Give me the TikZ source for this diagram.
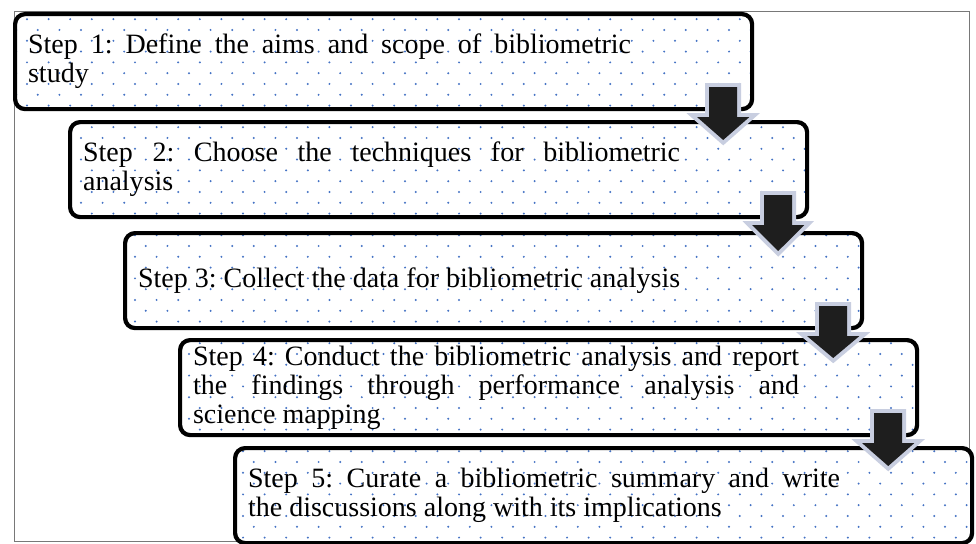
\documentclass[tikz,border=0pt]{standalone}
\usepackage{fontspec}
\setmainfont{Liberation Serif}
\usetikzlibrary{calc,patterns}
\definecolor{dotblue}{RGB}{68,114,196}
\definecolor{arrowdark}{RGB}{30,30,30}
\definecolor{glowblue}{RGB}{200,206,224}
\definecolor{framegray}{RGB}{120,120,120}
\pgfdeclarepatternformonly{bluedots}{\pgfqpoint{-2pt}{-2pt}}{\pgfqpoint{23.6pt}{23.6pt}}{\pgfqpoint{21.6pt}{21.6pt}}{%
	\pgfpathcircle{\pgfqpoint{5.4pt}{5.4pt}}{1.1pt}%
	\pgfpathcircle{\pgfqpoint{16.2pt}{16.2pt}}{1.1pt}%
	\pgfusepath{fill}}
\tikzset{%
	stepbox/.style={draw, line width=4.2pt, rounded corners=10pt, anchor=north west,
		minimum width=737pt, minimum height=95pt, inner xsep=13pt, inner ysep=4pt,
		preaction={fill=white}, pattern=bluedots, pattern color=dotblue,
		font=\fontsize{28}{29}\selectfont},
	blockarrow/.style={to path={let \p1=(\tikztostart), \p2=(\tikztotarget) in
		(\x1-14pt,\y1) -- (\x1+14pt,\y1) -- (\x1+14pt,\y1-30pt) -- (\x1+26pt,\y1-30pt)
		-- (\x1,\y2) -- (\x1-26pt,\y1-30pt) -- (\x1-14pt,\y1-30pt) -- cycle}}
}
% text block at the left of a box, justified, box inner width 711pt
\newcommand{\steptext}[2][600pt]{\parbox{#1}{\frenchspacing\leftskip=0pt\rightskip=0pt
	\tolerance=10000\hbadness=10000\hyphenpenalty=10000 #2}\hspace*{\dimexpr711pt-#1\relax}}

\begin{document}
\begin{tikzpicture}[x=1pt, y=-1pt,
		downarrow/.style={blockarrow, fill=arrowdark, line join=miter,
			preaction={draw=glowblue, line width=8pt, line join=miter}}]
	\useasboundingbox (0,0) rectangle (976,543);
	\draw [framegray, line width=1pt] (14,12) rectangle (969,541);
	\node [stepbox] (b1) at (13, 12) {\steptext[603pt]{Step 1: Define the aims and scope of bibliometric\linebreak study}};
	\node [stepbox] (b2) at (68, 120) {\steptext[597pt]{Step 2: Choose the techniques for bibliometric\linebreak analysis}};
	\node [stepbox] (b3) at (123, 231) {\steptext{Step 3: Collect the data for bibliometric analysis}};
	\node [stepbox] (b4) at (178, 338) {\steptext[606pt]{Step 4: Conduct the bibliometric analysis and report\linebreak the findings through performance analysis and\linebreak science mapping}};
	\node [stepbox] (b5) at (233, 446) {\steptext[592pt]{Step 5: Curate a bibliometric summary and write\linebreak the discussions along with its implications}};
	\coordinate (t1) at ($(b1.south east)+(-31,-24)$);
	\coordinate (h1) at ($(b2.north east)+(-86,20)$);
	\coordinate (t2) at ($(b2.south east)+(-31,-24)$);
	\coordinate (h2) at ($(b3.north east)+(-86,20)$);
	\coordinate (t3) at ($(b3.south east)+(-31,-24)$);
	\coordinate (h3) at ($(b4.north east)+(-86,20)$);
	\coordinate (t4) at ($(b4.south east)+(-31,-24)$);
	\coordinate (h4) at ($(b5.north east)+(-86,20)$);
	\draw [downarrow, draw=none] (t1) to (h1);
	\draw [downarrow, draw=none] (t2) to (h2);
	\draw [downarrow, draw=none] (t3) to (h3);
	\draw [downarrow, draw=none] (t4) to (h4);
\end{tikzpicture}
\end{document}
